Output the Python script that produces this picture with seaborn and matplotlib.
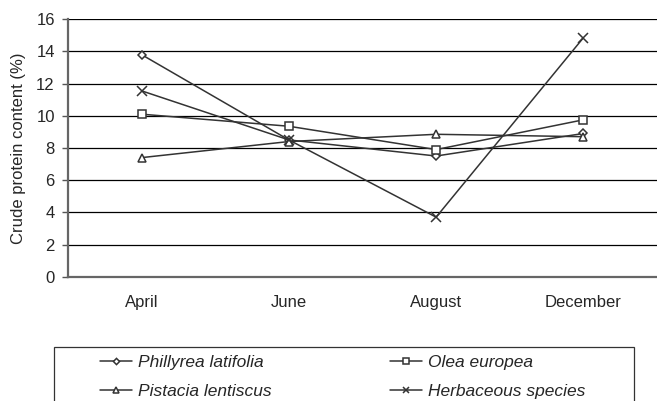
import pandas as pd
import matplotlib.pyplot as plt
import seaborn as sns
from matplotlib.patches import Rectangle

months = ["April", "June", "August", "December"]
species = ["Phillyrea latifolia", "Olea europea", "Pistacia lentiscus", "Herbaceous species"]
phillyrea = [13.8, 8.5, 7.5, 8.9]
olea = [10.1, 9.35, 7.9, 9.75]
pistacia = [7.4, 8.4, 8.85, 8.7]
herbaceous = [11.55, 8.5, 3.7, 14.85]

rows = []
for name, vals in zip(species, [phillyrea, olea, pistacia, herbaceous]):
    for i, (m, v) in enumerate(zip(months, vals)):
        rows.append({"pos": i, "month": m, "species": name, "value": v})
df = pd.DataFrame(rows)

sns.set_style("white")
plt.rcParams["font.family"] = ["Liberation Sans", "DejaVu Sans"]

fig = plt.figure(figsize=(6.57, 4.01), dpi=100)
ax = fig.add_axes([0.1035, 0.31, 0.8965, 0.642])

markers = {"Phillyrea latifolia": "D", "Olea europea": "s",
           "Pistacia lentiscus": "^", "Herbaceous species": "x"}
sizes = {"Phillyrea latifolia": 4.5, "Olea europea": 6, "Pistacia lentiscus": 6, "Herbaceous species": 7}

for name in species:
    sub = df[df["species"] == name]
    sns.lineplot(data=sub, x="pos", y="value", ax=ax, color="#333333", lw=1.1,
                 marker=markers[name], markersize=sizes[name], markerfacecolor="white",
                 markeredgecolor="#333333", markeredgewidth=1.1, label=name, legend=False)

ax.set_xlim(-0.5, 3.45)
ax.set_ylim(0, 16)
ax.set_yticks(range(0, 17, 2))
ax.set_xticks(range(4))
ax.set_xticklabels(months)
ax.set_xticks([-0.5, 0.5, 1.5, 2.5, 3.5], minor=True)
ax.tick_params(axis="x", which="major", length=0, pad=13, labelsize=12)
ax.tick_params(axis="x", which="minor", length=4, width=1, color="#555555", direction="out")
ax.tick_params(axis="y", length=4.5, width=1, color="#555555", direction="out", labelsize=12,
               left=True, pad=5)
ax.yaxis.grid(True, color="black", lw=0.9)
ax.set_axisbelow(True)
for s in ["top", "right"]:
    ax.spines[s].set_visible(False)
for s in ["left", "bottom"]:
    ax.spines[s].set_color("#666666")
    ax.spines[s].set_linewidth(1.6)
ax.set_xlabel("")
ax.set_ylabel("Crude protein content (%)", fontsize=12, labelpad=7)

# legend: filled row by row
handles, labels = ax.get_legend_handles_labels()
order = [0, 2, 1, 3]
leg = fig.legend([handles[i] for i in order], [labels[i] for i in order], ncol=2,
                 loc="upper left", bbox_to_anchor=(100 / 657, 1 - 355 / 401),
                 frameon=False, prop={"style": "italic", "size": 12.5},
                 handlelength=1.85, handletextpad=0.35, borderpad=0, borderaxespad=0,
                 labelspacing=0.8, columnspacing=6.8, markerscale=0.7)
fig.patches.append(Rectangle((54 / 657, -0.05), 580 / 657, (401 - 347) / 401 + 0.05,
                             transform=fig.transFigure, fill=False,
                             edgecolor="#333333", lw=0.9))

fig.savefig("out.png", dpi=100)
